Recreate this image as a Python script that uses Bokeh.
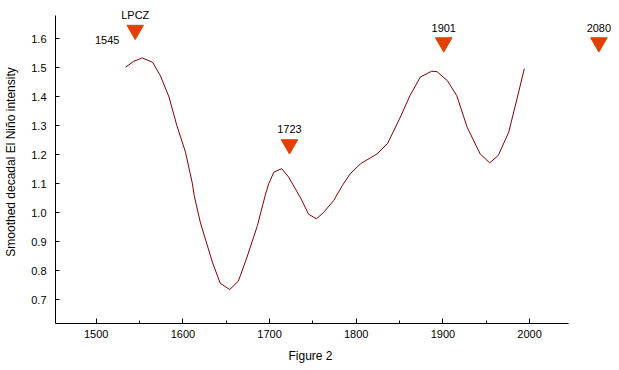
from bokeh.plotting import figure
from bokeh.models import FixedTicker, Range1d, ColumnDataSource, Title, CustomJSTickFormatter
from bokeh.core.properties import value
from bokeh.embed import file_html
from bokeh.resources import INLINE

# Smoothed decadal El Niño intensity curve
years = [1534, 1543, 1553, 1565, 1574, 1584, 1593, 1603, 1611, 1613, 1620, 1634,
         1643, 1654, 1664, 1674, 1686, 1695, 1699, 1705, 1714, 1722, 1736, 1745,
         1754, 1762, 1774, 1784, 1793, 1805, 1824, 1836, 1851, 1862, 1874, 1887,
         1893, 1905, 1916, 1928, 1943, 1954, 1964, 1976, 1986, 1994]
intensity = [1.502, 1.522, 1.534, 1.519, 1.473, 1.399, 1.301, 1.209, 1.10, 1.06, 0.968, 0.83,
             0.757, 0.735, 0.764, 0.847, 0.956, 1.06, 1.10, 1.14, 1.152, 1.123, 1.05, 0.995,
             0.979, 1.0, 1.042, 1.094, 1.134, 1.169, 1.203, 1.238, 1.33, 1.404, 1.468, 1.488,
             1.487, 1.456, 1.404, 1.295, 1.203, 1.172, 1.198, 1.278, 1.399, 1.497]

# Event markers
event_years = [1545, 1723, 1901, 2080]
event_values = [1.630, 1.2355, 1.587, 1.587]
event_labels = ["LPCZ", "1723", "1901", "2080"]
side_label = ["1545"]

x_ticks = [1500, 1600, 1700, 1800, 1900, 2000]
x_minor = [1550, 1650, 1750, 1850, 1950]
y_ticks = [0.7, 0.8, 0.9, 1.0, 1.1, 1.2, 1.3, 1.4, 1.5, 1.6]

FONT = "Liberation Sans"

p = figure(width=619, height=370, output_backend="svg", toolbar_location=None,
           x_range=Range1d(1453.0, 2103.8), y_range=Range1d(0.618, 1.732),
           min_border_left=55, min_border_right=0, min_border_top=0,
           min_border_bottom=47)
p.outline_line_color = None
p.xgrid.visible = False
p.ygrid.visible = False
p.background_fill_color = "white"
p.border_fill_color = "white"

p.line(years, intensity, line_color="#800000", line_width=1)

src = ColumnDataSource(dict(x=event_years, y=event_values, t=event_labels))
p.scatter("x", "y", source=src, marker="inverted_triangle", size=16.5,
          fill_color="#E04000", line_color="#E04000")
p.text("x", "y", text="t", source=src, y_offset=-15, text_align="center",
       text_baseline="middle", text_font=value(FONT), text_font_size="11px",
       text_color="black")
p.text(x=[event_years[0]], y=[event_values[0]], text=side_label, x_offset=-28, y_offset=10,
       text_align="center", text_baseline="middle", text_font=value(FONT),
       text_font_size="11px", text_color="black")

xa = p.xaxis[0]
xa.ticker = FixedTicker(ticks=x_ticks, minor_ticks=x_minor)
xa.bounds = (1453.0, 2045.0)
xa.major_tick_in = 5
xa.major_tick_out = 0
xa.minor_tick_in = 3
xa.minor_tick_out = 0
xa.major_label_standoff = 6
xa.axis_line_color = "black"
xa.major_label_text_font = FONT
xa.major_label_text_font_size = "11px"
xa.major_label_text_color = "black"

ya = p.yaxis[0]
ya.ticker = FixedTicker(ticks=y_ticks)
ya.bounds = (0.618, 1.68)
ya.major_tick_in = 4
ya.major_tick_out = 0
ya.minor_tick_in = 0
ya.minor_tick_out = 0
ya.major_label_standoff = 9
ya.major_label_text_font = FONT
ya.major_label_text_font_size = "11px"
ya.major_label_text_color = "black"
ya.formatter = CustomJSTickFormatter(code="return tick.toFixed(1);")
ya.axis_label = "Smoothed decadal El Niño intensity"
ya.axis_label_text_font = FONT
ya.axis_label_text_font_size = "12px"
ya.axis_label_text_font_style = "normal"
ya.axis_label_text_color = "black"
ya.axis_label_standoff = 10

p.add_layout(Title(text="Figure 2", align="left", offset=233, standoff=12,
                   text_font=FONT, text_font_size="12px", text_font_style="normal",
                   text_color="black"), "below")

open("out.html", "w").write(file_html(p, INLINE))
